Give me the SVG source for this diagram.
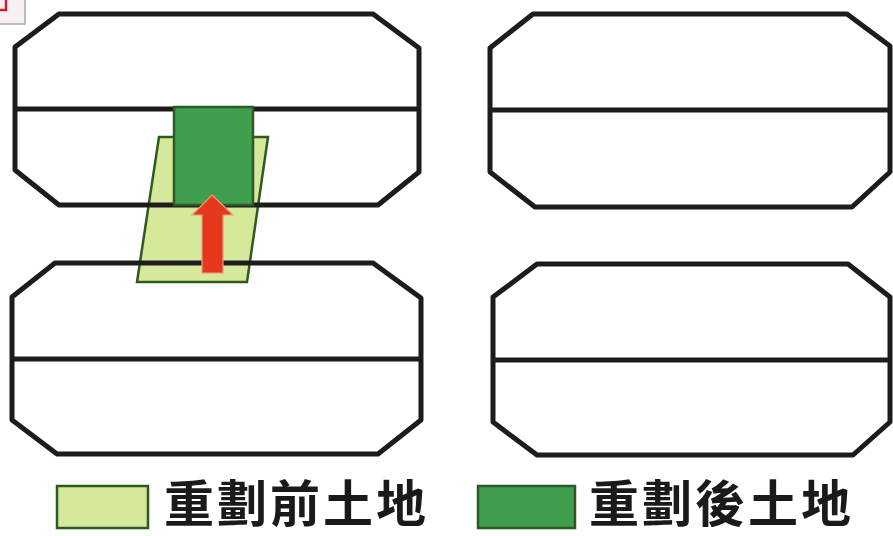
<svg xmlns="http://www.w3.org/2000/svg" width="893" height="536" viewBox="0 0 893 536">
<style>
.blk{fill:none;stroke:#1c1c1c;stroke-width:5;stroke-linejoin:round}
.mid{stroke:#1c1c1c;stroke-width:5}
.light{fill:#d6e899;stroke:#2d5a24;stroke-width:2.5}
.dark{fill:#3f9f4f;stroke:#2d5a24;stroke-width:2.5}
.arrow{fill:#e5391e;stroke:#f29a7c;stroke-width:1.2}
.lbl{font-family:"Noto Sans CJK TC","Noto Sans CJK SC",sans-serif;font-size:50px;font-weight:700;fill:#1a1a1a;letter-spacing:3px}
</style>
<rect width="893" height="536" fill="#ffffff"/>
<g id="corner-tab">
<rect x="-20" y="-20" width="45" height="44" fill="#f6eff4" stroke="#a8a8a8" stroke-width="1.5"/>
<polyline points="0,10 6,10 6,0" fill="none" stroke="#c8202a" stroke-width="2.5"/>
</g>
<g id="parcel-before">
<polygon class="light" points="159,137 268,137 247,282 137,282"/>
</g>
<g id="block-top-left">
<polygon class="blk" points="59,14 373,14 419,48 419,172 378,205 59,205 15,170 15,47"/>
<line class="mid" x1="15" y1="109" x2="419" y2="109"/>
</g>
<g id="block-top-right">
<polygon class="blk" points="533,14 847,14 890,46 890,172 852,207 535,207 490,172 490,48"/>
<line class="mid" x1="490" y1="110" x2="890" y2="110"/>
</g>
<g id="block-bottom-left">
<polygon class="blk" points="55,263 373,263 421,298 421,420 378,454 57,454 12,420 12,297"/>
<line class="mid" x1="12" y1="359" x2="421" y2="359"/>
</g>
<g id="block-bottom-right">
<polygon class="blk" points="537,264 848,264 890,297 890,422 853,455 537,455 493,422 493,297"/>
<line class="mid" x1="493" y1="360" x2="890" y2="360"/>
</g>
<g id="parcel-after">
<rect class="dark" x="174" y="107" width="79" height="98"/>
</g>
<g id="connectors">
<polygon class="arrow" points="212,195 233,215 223,215 223,273 202,273 202,215 192,215"/>
</g>
<g id="legend-before">
<rect class="light" x="57" y="486" width="91" height="42" stroke-width="3"/>
<text class="lbl" x="164" y="522">重劃前土地</text>
</g>
<g id="legend-after">
<rect class="dark" x="478" y="486" width="97" height="42" stroke-width="3"/>
<text class="lbl" x="589" y="522">重劃後土地</text>
</g>
</svg>
